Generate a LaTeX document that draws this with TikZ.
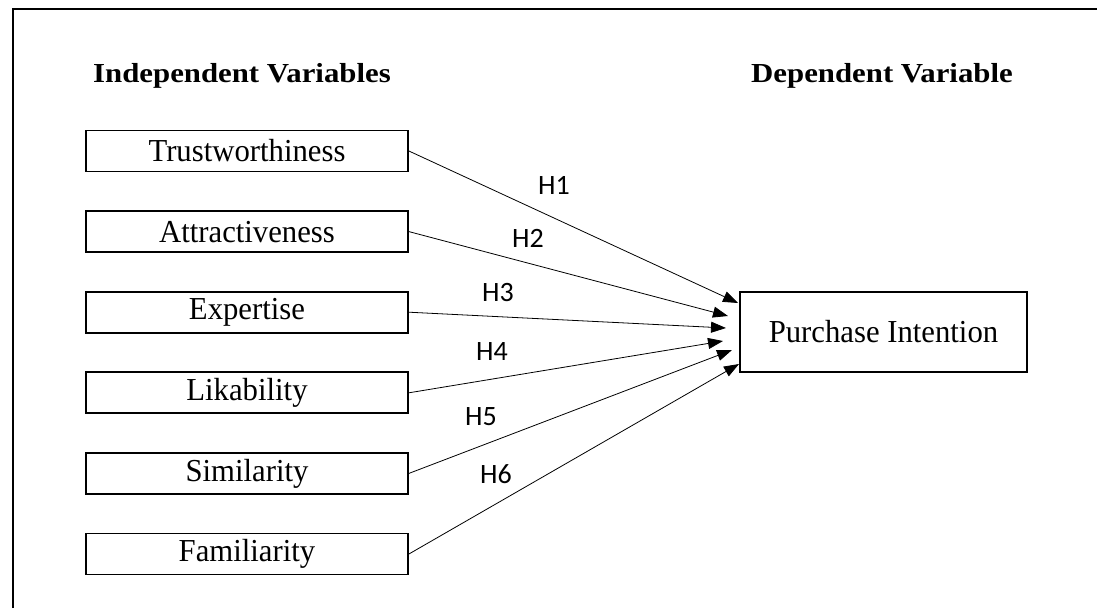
\documentclass[tikz,border=0pt]{standalone}
\usepackage{fontspec}
\setmainfont{Liberation Serif}
\newfontfamily\headfont[FakeStretch=1.12]{Liberation Serif}
\newfontfamily\boxfont[FakeStretch=0.96]{Liberation Serif}
\newfontfamily\labfont{Carlito}
\usetikzlibrary{arrows.meta}
\tikzset{
  varbox/.style={draw, line width=1.8pt, minimum width=322pt, minimum height=41pt, inner sep=0pt,
    font=\boxfont\fontsize{32}{36}\selectfont},
  depbox/.style={draw, line width=1.8pt, minimum width=287pt, minimum height=80pt, inner sep=0pt,
    font=\boxfont\fontsize{32}{36}\selectfont},
  heading/.style={anchor=base, inner sep=0pt, font=\headfont\bfseries\fontsize{27.5}{32}\selectfont},
  hyp/.style={inner sep=0pt, font=\labfont\fontsize{28}{32}\selectfont},
  link/.style={line width=0.8pt, -{Triangle[length=15pt,width=11pt]}},
  frame/.style={line width=1.3pt}
}
\begin{document}
\begin{tikzpicture}[x=1pt,y=-1pt]
\useasboundingbox (0,0) rectangle (1097,608);
\draw[frame] (13,608) -- (13,9) -- (1097,9);
\node[heading] (hi) at (242,82) {Independent Variables};
\node[heading] (hd) at (882,82) {Dependent Variable};
\node[varbox] (t) at (247,151) {Trustworthiness};
\node[varbox] (a) at (247,231.6) {Attractiveness};
\node[varbox] (e) at (247,312.2) {Expertise};
\node[varbox] (l) at (247,392.8) {Likability};
\node[varbox] (s) at (247,473.4) {Similarity};
\node[varbox] (f) at (247,554) {Familiarity};
\node[depbox] (p) at (883.5,332) {Purchase Intention};
\coordinate (e1) at (738,303);
\coordinate (e2) at (728,316);
\coordinate (e3) at (726,328);
\coordinate (e4) at (723,341);
\coordinate (e5) at (732,350);
\coordinate (e6) at (739,364);
\draw[link] (t.east) -- (e1);
\draw[link] (a.east) -- (e2);
\draw[link] (e.east) -- (e3);
\draw[link] (l.east) -- (e4);
\draw[link] (s.east) -- (e5);
\draw[link] (f.east) -- (e6);
\node[hyp] (h1) at (554,185) {H1};
\node[hyp] (h2) at (528,238) {H2};
\node[hyp] (h3) at (498,293) {H3};
\node[hyp] (h4) at (492,352) {H4};
\node[hyp] (h5) at (481,417) {H5};
\node[hyp] (h6) at (496,474) {H6};
\end{tikzpicture}
\end{document}
